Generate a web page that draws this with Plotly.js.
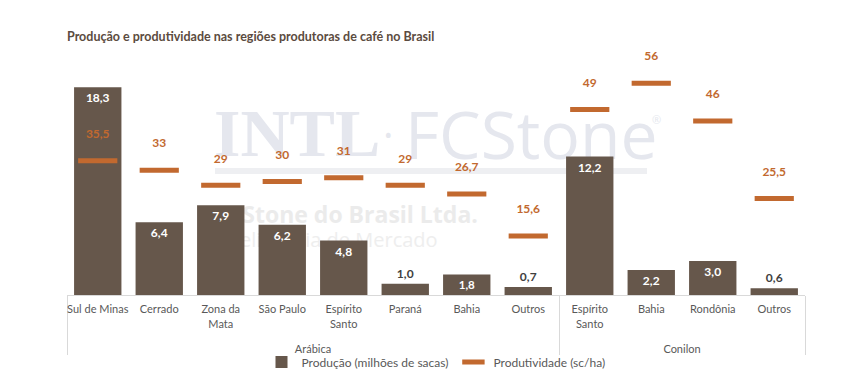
<!DOCTYPE html>
<html>
<head>
<meta charset="utf-8">
<script src="https://cdn.plot.ly/plotly-3.0.1.min.js"></script>
<style>
html,body{margin:0;padding:0;background:#fff;}
#wrap{position:relative;width:867px;height:384px;}
#bg,#chart{position:absolute;left:0;top:0;width:867px;height:384px;}
</style>
</head>
<body>
<div id="wrap"><div id="bg"></div><div id="chart"></div></div>
<script>
const grupos = ['Arábica','Arábica','Arábica','Arábica','Arábica','Arábica','Arábica','Arábica','Conilon','Conilon','Conilon','Conilon'];
const regioes = ['Sul de Minas','Cerrado','Zona da<br>Mata','São Paulo','Espírito<br>Santo','Paraná','Bahia','Outros','Espírito<br>Santo','Bahia','Rondônia','Outros\u200b'];
const producao = [18.3, 6.4, 7.9, 6.2, 4.8, 1.0, 1.8, 0.7, 12.2, 2.2, 3.0, 0.6];
const produtividade = [35.5, 33, 29, 30, 31, 29, 26.7, 15.6, 49, 56, 46, 25.5];

// group labels drawn one line lower (leading empty line) to match the reference spacing
const x = [grupos.map(g => '<br>' + g), regioes];
const fmt = v => String(v).replace('.', ',');
const BROWN = '#66574b';
const ORANGE = '#c2692f';
const TXT = '#595959';

const X0 = 67, X1 = 805, Y0 = 68, Y1 = 295;
const px = v => (v - X0) / (X1 - X0);
const py = v => (Y1 - v) / (Y1 - Y0);
const WM = '#e5e7ee';
const WM2 = '#ebebeb';

// Background layer: watermark (drawn below the chart)
const bgLayout = {
  width: 867, height: 384,
  margin: {l: X0, r: 867 - X1, t: Y0, b: 384 - Y1, autoexpand: false},
  paper_bgcolor: '#ffffff', plot_bgcolor: '#ffffff',
  xaxis: {visible: false, range: [0, 1]}, yaxis: {visible: false, range: [0, 1]},
  showlegend: false,
  shapes: [
    {type: 'line', xref: 'paper', yref: 'paper', x0: px(215), x1: px(647), y0: py(171), y1: py(171),
     line: {color: '#eeeff2', width: 6}}
  ],
  annotations: [
    {text: 'INTL', xref: 'paper', yref: 'paper', x: px(212), y: py(133), xanchor: 'left', yanchor: 'middle',
     showarrow: false, font: {family: 'Liberation Serif', size: 68, color: WM, weight: 'bold'}},
    {text: '·', xref: 'paper', yref: 'paper', x: px(388), y: py(133), xanchor: 'center', yanchor: 'middle',
     showarrow: false, font: {family: 'Open Sans', size: 40, color: WM}},
    {text: 'FCStone', xref: 'paper', yref: 'paper', x: px(403), y: py(133), xanchor: 'left', yanchor: 'middle',
     showarrow: false, font: {family: 'Open Sans', size: 66, color: WM, weight: 400}},
    {text: '®', xref: 'paper', yref: 'paper', x: px(656), y: py(119), xanchor: 'center', yanchor: 'middle',
     showarrow: false, font: {family: 'Open Sans', size: 11, color: WM}},
    {text: 'FCStone do Brasil Ltda.', xref: 'paper', yref: 'paper', x: px(213), y: py(214), xanchor: 'left', yanchor: 'middle',
     showarrow: false, font: {family: 'Open Sans', size: 23, color: WM2, weight: 'bold'}},
    {text: 'Inteligência de Mercado', xref: 'paper', yref: 'paper', x: px(213), y: py(239), xanchor: 'left', yanchor: 'middle',
     showarrow: false, font: {family: 'Open Sans', size: 20, color: '#eeeeee'}}
  ]
};
Plotly.newPlot('bg', [], bgLayout, {displayModeBar: false, staticPlot: true});

const traces = [
  {
    type: 'bar', name: 'Produção (milhões de sacas)', x: x, y: producao,
    marker: {color: BROWN},
    texttemplate: '%{y:.1f}',
    textposition: producao.map(v => v < 1.5 ? 'outside' : 'inside'),
    insidetextanchor: 'end',
    insidetextfont: {color: '#ffffff', size: 12, family: 'Lato', weight: 'bold'},
    outsidetextfont: {color: '#404040', size: 12, family: 'Lato', weight: 'bold'},
    cliponaxis: false,
    hoverinfo: 'none'
  },
  {
    type: 'scatter', mode: 'markers', name: 'Produtividade (sc/ha)', x: x, y: produtividade,
    yaxis: 'y2',
    marker: {symbol: 'line-ew', size: 28, color: ORANGE, line: {color: ORANGE, width: 5}},
    hoverinfo: 'none'
  },
  {
    type: 'scatter', mode: 'markers+text', showlegend: false, x: x, y: produtividade,
    yaxis: 'y2',
    text: produtividade.map(fmt),
    textposition: 'top center',
    textfont: {color: ORANGE, size: 12, family: 'Lato', weight: 'bold'},
    marker: {size: 30, opacity: 0, color: ORANGE},
    cliponaxis: false,
    hoverinfo: 'none'
  }
];

const layout = {
  width: 867, height: 384,
  margin: {l: X0, r: 867 - X1, t: Y0, b: 384 - Y1, autoexpand: false},
  paper_bgcolor: 'rgba(0,0,0,0)', plot_bgcolor: 'rgba(0,0,0,0)',
  separators: ',.',
  font: {family: 'Lato', color: TXT, size: 12},
  title: {
    text: 'Produção e produtividade nas regiões produtoras de café no Brasil',
    x: 67 / 867, xanchor: 'left', xref: 'container',
    y: 1 - 37 / 384, yanchor: 'middle', yref: 'container',
    font: {family: 'Lato', size: 12.5, color: '#5b4b40', weight: 'bold'}
  },
  bargap: 0.23,
  xaxis: {
    type: 'multicategory',
    range: [-0.5, regioes.length - 0.5],
    tickangle: 0,
    ticklabelstandoff: 4,
    automargin: false,
    showline: true, linecolor: '#d9d9d9', linewidth: 1,
    showdividers: true, dividercolor: '#d9d9d9', dividerwidth: 1,
    ticks: '', showgrid: false, zeroline: false,
    tickfont: {family: 'Lato', size: 11, color: TXT}
  },
  yaxis: {range: [0, 20], visible: false, showgrid: false, zeroline: false},
  yaxis2: {range: [0, 60], overlaying: 'y', side: 'right', visible: false, showgrid: false, zeroline: false},
  showlegend: true,
  legend: {
    orientation: 'h', x: 0.5, xanchor: 'center', y: py(362), yanchor: 'middle',
    font: {family: 'Lato', size: 12, color: TXT}, bgcolor: 'rgba(0,0,0,0)'
  }
};

Plotly.newPlot('chart', traces, layout, {displayModeBar: false, staticPlot: true});
</script>
</body>
</html>
